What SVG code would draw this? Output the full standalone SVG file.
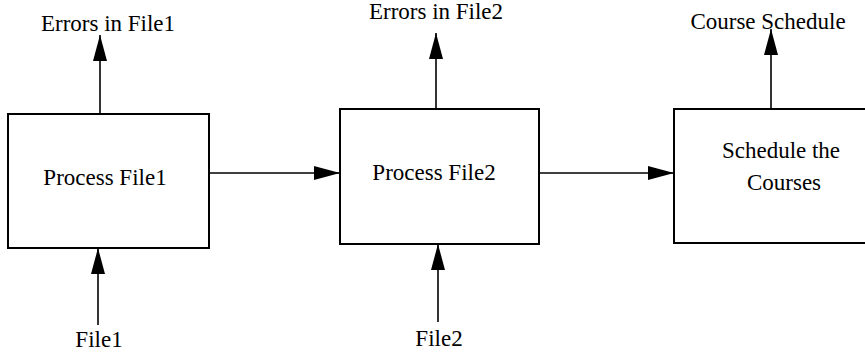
<svg xmlns="http://www.w3.org/2000/svg" width="865" height="352" viewBox="0 0 865 352">
<style>
.box{fill:#fff;stroke:#000;stroke-width:2}
.ln{stroke:#000;stroke-width:1.6;fill:none}
text{font-family:"Liberation Serif","Times New Roman",serif;font-size:23px;fill:#000;text-anchor:middle}
</style>
<defs>
<marker id="ah" markerUnits="userSpaceOnUse" markerWidth="26" markerHeight="14" refX="26" refY="7" orient="auto">
<path d="M0,0 L26,7 L0,14 Z" fill="#000"/>
</marker>
</defs>
<g id="connectors">
<line class="ln" x1="100" y1="114" x2="100" y2="35" marker-end="url(#ah)"/>
<line class="ln" x1="98" y1="325" x2="98" y2="248" marker-end="url(#ah)"/>
<line class="ln" x1="209" y1="173" x2="340" y2="173" marker-end="url(#ah)"/>
<line class="ln" x1="436" y1="109" x2="436" y2="33" marker-end="url(#ah)"/>
<line class="ln" x1="438" y1="322" x2="438" y2="244" marker-end="url(#ah)"/>
<line class="ln" x1="539" y1="173" x2="674" y2="173" marker-end="url(#ah)"/>
<line class="ln" x1="771" y1="109" x2="771" y2="29" marker-end="url(#ah)"/>
</g>
<g id="lbl-errors1"><text x="108" y="31">Errors in File1</text></g>
<g id="lbl-file1"><text x="99" y="347">File1</text></g>
<g id="lbl-errors2"><text x="436" y="19">Errors in File2</text></g>
<g id="lbl-file2"><text x="439" y="346">File2</text></g>
<g id="lbl-schedule"><text x="768" y="29">Course Schedule</text></g>
<g id="node-process1">
<rect class="box" x="8" y="114" width="201" height="134"/>
<text x="105" y="185">Process File1</text>
</g>
<g id="node-process2">
<rect class="box" x="340" y="109" width="199" height="135"/>
<text x="434" y="180">Process File2</text>
</g>
<g id="node-schedule">
<rect class="box" x="674" y="109" width="210" height="134"/>
<text x="781" y="158">Schedule the</text>
<text x="784" y="190">Courses</text>
</g>
</svg>
